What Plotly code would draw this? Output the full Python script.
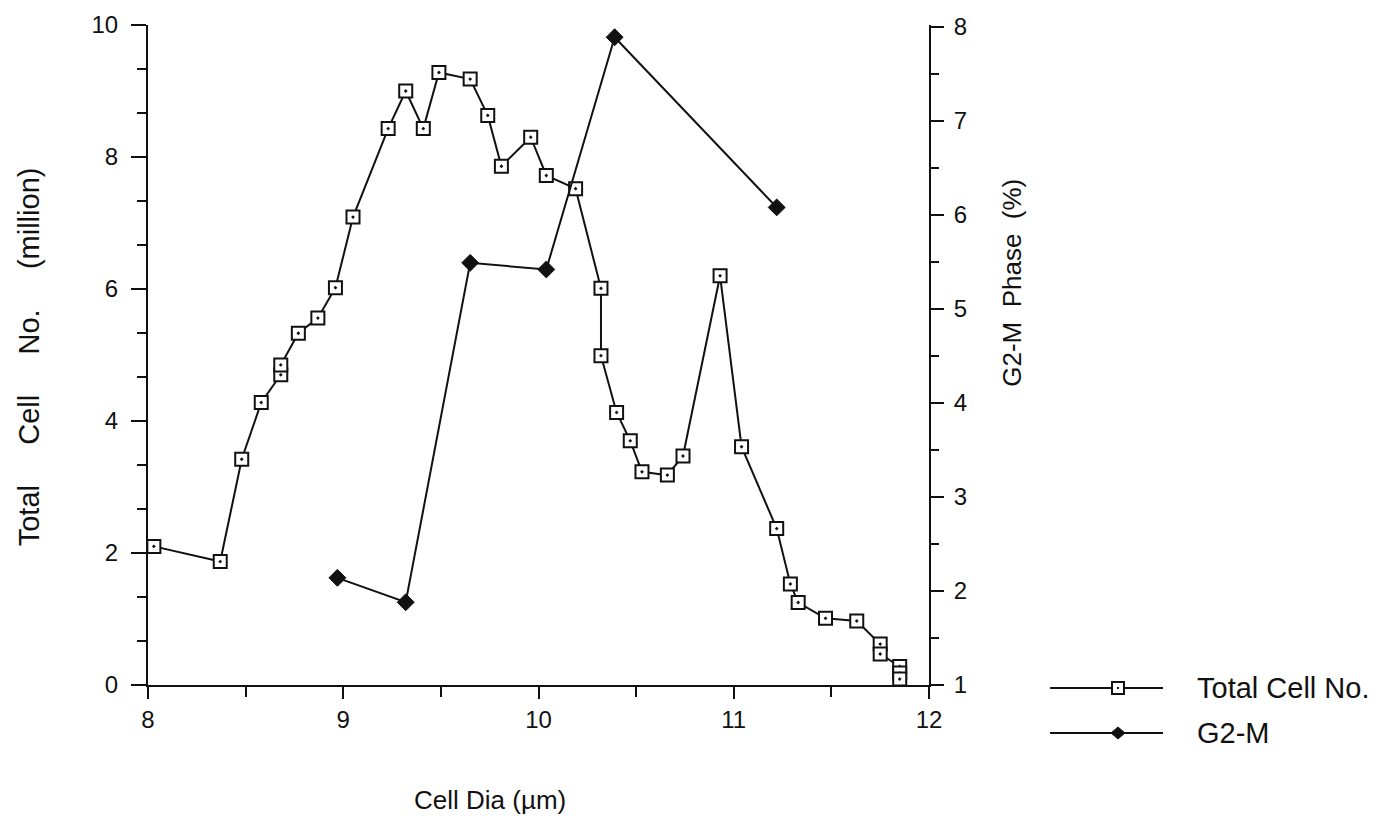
import plotly.graph_objects as go

# ---- data ----
cell_dia = [8.03, 8.37, 8.48, 8.58, 8.68, 8.68, 8.77, 8.87, 8.96, 9.05, 9.23, 9.32,
            9.41, 9.49, 9.65, 9.74, 9.81, 9.96, 10.04, 10.19, 10.32, 10.32, 10.40,
            10.47, 10.53, 10.66, 10.74, 10.93, 11.04, 11.22, 11.29, 11.33, 11.47,
            11.63, 11.75, 11.75, 11.85, 11.85, 11.85]
total_cells = [2.10, 1.87, 3.42, 4.28, 4.70, 4.85, 5.33, 5.56, 6.02, 7.09, 8.43, 9.00,
               8.43, 9.28, 9.18, 8.63, 7.86, 8.30, 7.72, 7.52, 6.01, 4.99, 4.13,
               3.70, 3.23, 3.18, 3.47, 6.20, 3.61, 2.37, 1.53, 1.25, 1.01,
               0.97, 0.62, 0.47, 0.28, 0.18, 0.09]

g2m_dia = [8.97, 9.32, 9.65, 10.04, 10.39, 11.22]
g2m_pct = [2.14, 1.88, 5.49, 5.42, 7.89, 6.08]

x_ticks = [8, 9, 10, 11, 12]
yl_ticks = [0, 2, 4, 6, 8, 10]
yr_ticks = [1, 2, 3, 4, 5, 6, 7, 8]

FONT = "Liberation Sans, Arial, Helvetica, sans-serif"
INK = "#111111"
NB = "\u00a0"

fig = go.Figure()
fig.add_trace(go.Scatter(
    x=cell_dia, y=total_cells, mode="lines+markers", name="Total Cell No.",
    line=dict(color=INK, width=2),
    marker=dict(symbol="square-dot", size=13, color="white",
                line=dict(color=INK, width=2)),
    yaxis="y", showlegend=False))
fig.add_trace(go.Scatter(
    x=g2m_dia, y=g2m_pct, mode="lines+markers", name="G2-M",
    line=dict(color=INK, width=2),
    marker=dict(symbol="diamond", size=13, color=INK,
                line=dict(color=INK, width=1)),
    yaxis="y2", showlegend=False))

axis_common = dict(showgrid=False, zeroline=False, showline=True,
                   linecolor=INK, linewidth=2, ticks="outside",
                   tickcolor=INK, tickwidth=2,
                   tickfont=dict(family=FONT, size=24, color=INK))

fig.update_layout(
    width=1385, height=816,
    margin=dict(l=148, r=456, t=25, b=131),
    paper_bgcolor="white", plot_bgcolor="white",
    font=dict(family=FONT, size=24, color=INK),
    xaxis=dict(range=[8, 12], tickvals=x_ticks, ticklen=12, ticklabelstandoff=0,
               minor=dict(dtick=0.5, tick0=8, ticks="outside", ticklen=10,
                          tickcolor=INK, tickwidth=2),
               **axis_common),
    yaxis=dict(range=[0, 10], tickvals=yl_ticks, ticklen=15, ticklabelstandoff=8,
               minor=dict(dtick=2 / 3, tick0=0, ticks="outside", ticklen=9,
                          tickcolor=INK, tickwidth=2),
               **axis_common),
    yaxis2=dict(range=[1, 8.02], tickvals=yr_ticks, ticklen=13, overlaying="y",
                side="right", anchor="x", ticklabelstandoff=5,
                minor=dict(dtick=0.5, tick0=1, ticks="outside", ticklen=8,
                           tickcolor=INK, tickwidth=2),
                **axis_common),
)

# axis titles
gapL = NB * 5
gapR = NB * 2
fig.add_annotation(text=f"Total{gapL}Cell{gapL}No.{gapL}(million)", xref="paper", yref="paper",
                   x=-0.152, y=(685 - 357) / 660, textangle=-90, showarrow=False,
                   xanchor="center", yanchor="middle",
                   font=dict(family=FONT, size=29, color=INK))
fig.add_annotation(text=f"G2-M{gapR}Phase{gapR}(%)", xref="paper", yref="paper",
                   x=1.106, y=(685 - 283) / 660, textangle=-90, showarrow=False,
                   xanchor="center", yanchor="middle",
                   font=dict(family=FONT, size=26, color=INK))
fig.add_annotation(text="Cell Dia (\u00b5m)", xref="paper", yref="paper",
                   x=(490 - 148) / 781, y=(685 - 800) / 660, showarrow=False,
                   xanchor="center", yanchor="middle",
                   font=dict(family=FONT, size=26, color=INK))

# manual legend
leg_x0, leg_x1, leg_mk, leg_tx = 1.155, 1.2996, 1.242, 1.341
leg_rows = [(-0.0045, "Total Cell No.", "square"), (-0.0727, "G2-M", "diamond")]
for ly, label, kind in leg_rows:
    fig.add_shape(type="line", xref="paper", yref="paper", x0=leg_x0, x1=leg_x1,
                  y0=ly, y1=ly, line=dict(color=INK, width=2))
    if kind == "square":
        fig.add_shape(type="rect", xref="paper", yref="paper",
                      xsizemode="pixel", ysizemode="pixel",
                      xanchor=leg_mk, yanchor=ly, x0=-6, x1=6, y0=-6, y1=6,
                      fillcolor="white", line=dict(color=INK, width=2))
        fig.add_shape(type="rect", xref="paper", yref="paper",
                      xsizemode="pixel", ysizemode="pixel",
                      xanchor=leg_mk, yanchor=ly, x0=-1, x1=1, y0=-1, y1=1,
                      fillcolor=INK, line=dict(color=INK, width=0))
    else:
        fig.add_shape(type="path", xref="paper", yref="paper",
                      xsizemode="pixel", ysizemode="pixel",
                      xanchor=leg_mk, yanchor=ly,
                      path="M -7 0 L 0 6 L 7 0 L 0 -6 Z",
                      fillcolor=INK, line=dict(color=INK, width=1))
    fig.add_annotation(text=label, xref="paper", yref="paper", x=leg_tx, y=ly,
                       showarrow=False, xanchor="left", yanchor="middle",
                       font=dict(family=FONT, size=29, color=INK))

fig.write_html("out.html")
